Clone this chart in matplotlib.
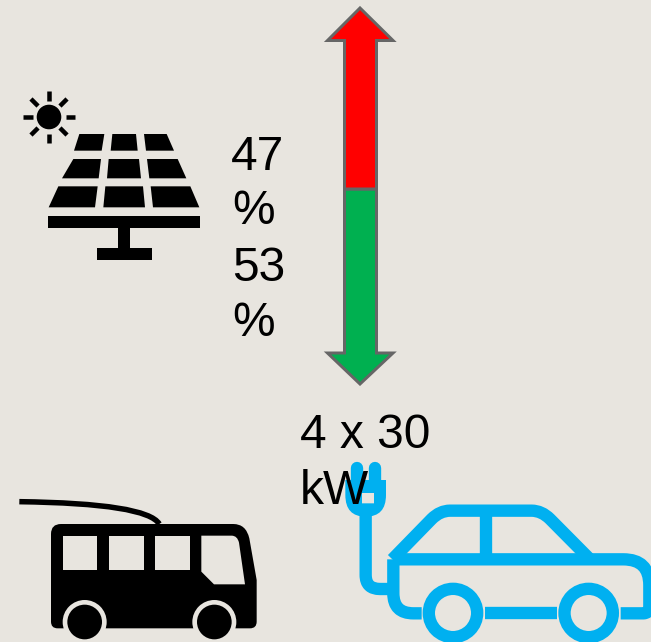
import numpy as np
import matplotlib
matplotlib.use("Agg")
import matplotlib.pyplot as plt
from matplotlib.patches import Circle, PathPatch, Polygon
from matplotlib.path import Path

# values shown on the chart
shares = [47, 53]
charger_count = 4
charger_power = 30
charger_unit = "kW"

BG = "#E8E5DF"
BLUE = "#00B0F0"
RED = "#FF0000"
GREEN = "#00B050"
GREY = "#666666"
PX = 72 / 100  # one pixel in points


def zoomed(points, x0, y0):
    # icon outlines were measured on 3x crops
    return [(x0 + x / 3, y0 + y / 3) for x, y in points]


def poly(ax, points, color, **kw):
    ax.add_patch(Polygon(points, closed=True, facecolor=color, edgecolor="none", **kw))


def curve(ax, verts, codes, color, width, cap="butt"):
    path = Path(verts, codes)
    ax.add_patch(PathPatch(path, facecolor="none", edgecolor=color, lw=width * PX, capstyle=cap, joinstyle="round"))


def filled(ax, verts, codes, color, zorder=2):
    ax.add_patch(PathPatch(Path(verts, codes), facecolor=color, edgecolor="none", zorder=zorder))


def draw_arrow(ax):
    top = [(360, 8), (393, 40.5), (376.5, 40.5), (376.5, 189), (344.5, 189), (344.5, 40.5), (327.5, 40.5)]
    bottom = [(344.5, 189), (376.5, 189), (376.5, 353), (393, 353), (360, 384), (327.5, 353), (344.5, 353)]
    for pts, col in [(bottom, GREEN), (top, RED)]:
        ax.add_patch(Polygon(pts, closed=True, facecolor=col, edgecolor=GREY, lw=3 * PX, joinstyle="miter"))


def draw_solar(ax):
    x0, y0 = 0, 80
    sun = (49, 117)
    ax.add_patch(Circle(sun, 12.3, color="black", lw=0))
    for ang in range(0, 360, 45):
        a = np.radians(ang)
        r1, r2 = (16.5, 26) if ang % 90 == 0 else (15.5, 25.5)
        ax.plot([sun[0] + r1 * np.cos(a), sun[0] + r2 * np.cos(a)],
                [sun[1] + r1 * np.sin(a), sun[1] + r2 * np.sin(a)],
                color="black", lw=4.5 * PX, solid_capstyle="butt")
    cells = [
        [(238, 162), (313, 162), (305, 212), (222, 212)],
        [(337, 162), (408, 162), (413, 212), (332, 212)],
        [(432, 162), (500, 162), (522, 212), (438, 212)],
        [(220, 237), (303, 237), (296, 295), (186, 295)],
        [(326, 237), (417, 237), (423, 295), (321, 295)],
        [(441, 237), (533, 237), (559, 295), (448, 295)],
        [(175, 319), (293, 319), (285, 382), (146, 382)],
        [(316, 319), (429, 319), (435, 382), (310, 382)],
        [(452, 319), (571, 319), (598, 382), (459, 382)],
        [(145, 407), (600, 407), (600, 445), (145, 445)],
        [(355, 445), (391, 445), (391, 503), (355, 503)],
        [(290, 503), (455, 503), (455, 539), (290, 539)],
    ]
    for c in cells:
        poly(ax, zoomed(c, x0, y0), "black")


def draw_bus(ax):
    x0, y0 = 0, 480
    M, L, C = Path.MOVETO, Path.LINETO, Path.CURVE3
    wire = zoomed([(58, 65), (440, 70), (478, 132)], x0, y0)
    curve(ax, wire, [M, C, C], "black", 5.5)
    body = zoomed([(183, 132), (700, 132), (738, 132), (748, 175), (770, 300), (770, 425), (770, 445), (750, 445),
                   (173, 445), (153, 445), (153, 425), (153, 162), (153, 132), (183, 132)], x0, y0)
    codes = [M, L, C, C, L, L, C, C, L, C, C, L, C, C]
    filled(ax, body, codes, "black")
    for left in (188, 327, 465):
        w = zoomed([(left, 167), (left + 104, 167), (left + 104, 271), (left, 271)], x0, y0)
        poly(ax, w, BG, zorder=3)
    front = zoomed([(604, 167), (695, 167), (712, 167), (717, 188), (735, 313), (642, 313), (604, 275)], x0, y0)
    filled(ax, front + [front[0]], [M, L, C, C, L, L, L, L], BG, zorder=3)
    for cx in (254, 643):
        c = zoomed([(cx, 426)], x0, y0)[0]
        ax.add_patch(Circle(c, 66 / 3, color=BG, lw=0, zorder=4))
        ax.add_patch(Circle(c, 52 / 3, color="black", lw=0, zorder=5))


def draw_car(ax):
    x0, y0 = 330, 450
    M, L, C = Path.MOVETO, Path.LINETO, Path.CURVE3
    w = 37 / 3
    # roof and belt line
    roof = zoomed([(187, 328), (305, 207), (330, 182), (360, 182), (605, 182), (635, 182), (660, 207), (780, 328)], x0, y0)
    curve(ax, roof, [M, L, C, C, L, C, C, L], BLUE, w)
    belt = zoomed([(190, 328), (880, 328), (958, 328), (958, 405), (958, 470), (958, 490), (940, 490), (872, 490)], x0, y0)
    curve(ax, belt, [M, L, C, C, L, C, C, L], BLUE, w)
    curve(ax, zoomed([(469, 182), (469, 328)], x0, y0), [M, L], BLUE, w)
    # rear and sill
    rear = zoomed([(190, 328), (190, 430), (190, 490), (250, 490), (275, 490)], x0, y0)
    curve(ax, rear, [M, L, C, C, L], BLUE, w)
    curve(ax, zoomed([(465, 490), (682, 490)], x0, y0), [M, L], BLUE, w)
    for cx in (369, 776):
        c = zoomed([(cx, 489)], x0, y0)[0]
        ax.add_patch(Circle(c, 72.5 / 3, facecolor="none", edgecolor=BLUE, lw=w * PX))
    # cord
    cord = zoomed([(107, 190), (107, 375), (107, 417), (150, 417), (190, 417)], x0, y0)
    curve(ax, cord, [M, L, C, C, L], BLUE, w)
    # plug
    head = zoomed([(46, 90), (168, 90), (168, 135), (168, 200), (107, 200), (46, 200), (46, 135), (46, 90)], x0, y0)
    filled(ax, head, [M, L, L, C, C, C, C, L], BLUE)
    hole = zoomed([(96, 129), (132, 129), (132, 160), (114, 160), (96, 160)], x0, y0)
    filled(ax, hole + [hole[0]], [M, L, L, C, C, L], BG, zorder=3)
    for cx in (81, 134):
        ax.plot(*zip(*zoomed([(cx, 54), (cx, 100)], x0, y0)), color=BLUE, lw=w * PX, solid_capstyle="round", zorder=2)


fig = plt.figure(figsize=(6.51, 6.42), dpi=100, facecolor=BG)
ax = fig.add_axes([0, 0, 1, 1])
ax.set_xlim(0, 651)
ax.set_ylim(642, 0)
ax.axis("off")

draw_arrow(ax)
draw_solar(ax)
draw_bus(ax)
draw_car(ax)

text_style = dict(family="Liberation Sans", fontsize=34.5, color="black", va="baseline", ha="left", zorder=10)
ax.text(231, 169.5, f"{shares[0]}", **text_style)
ax.text(232, 224.5, "%", **text_style)
ax.text(232, 281, f"{shares[1]}", **text_style)
ax.text(232, 336.5, "%", **text_style)
ax.text(300, 448, f"{charger_count} x {charger_power}", **text_style)
ax.text(300, 504, charger_unit, **text_style)

fig.savefig("out.png", dpi=100, facecolor=BG)
